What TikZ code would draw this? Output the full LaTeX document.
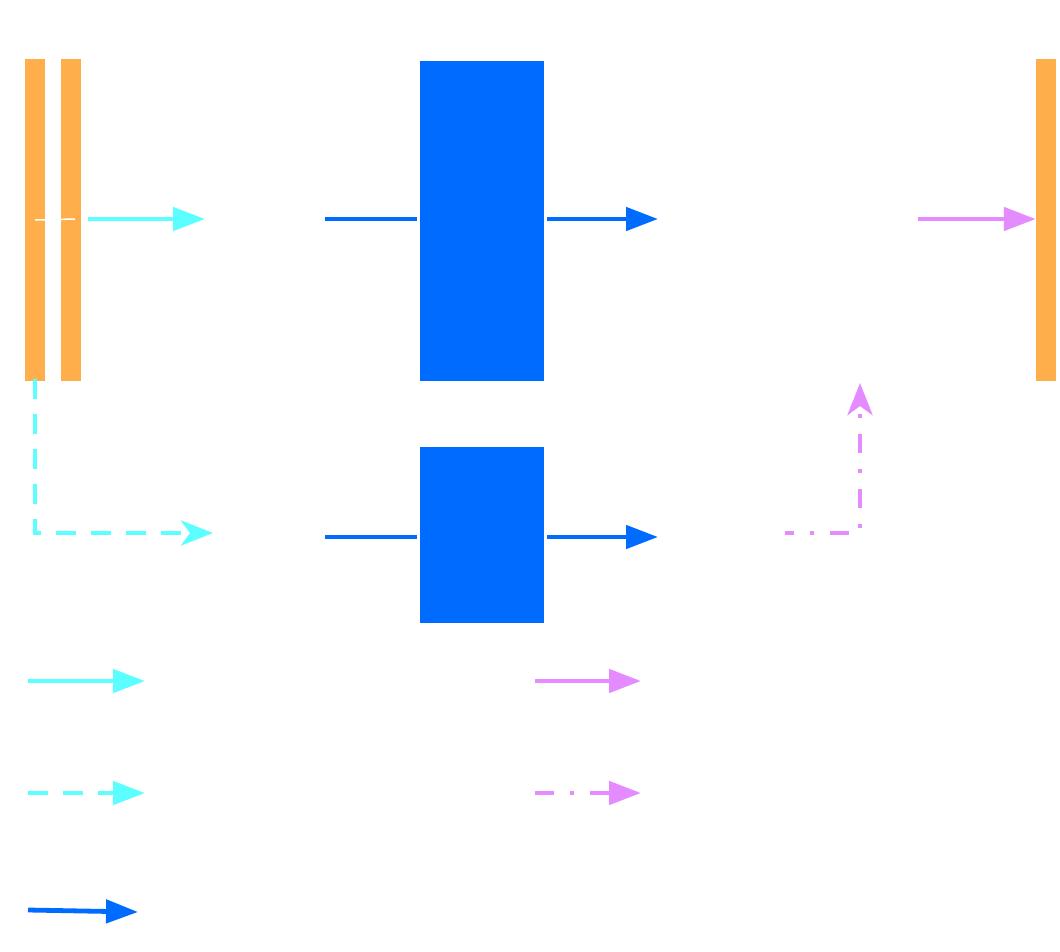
\documentclass[tikz,border=0pt]{standalone}
\usetikzlibrary{arrows.meta}
\definecolor{barorange}{HTML}{FFAE4C}
\definecolor{boxblue}{HTML}{006CFF}
\definecolor{lcyan}{HTML}{5CFFFF}
\definecolor{lmag}{HTML}{E38BFF}
\tikzset{
  bar/.style={rectangle, fill=barorange, draw=none, inner sep=0pt, minimum width=20pt, minimum height=322pt},
  bluebox/.style={rectangle, fill=boxblue, draw=none, inner sep=0pt, minimum width=124pt},
  conn/.style={line width=4.8pt},
  tri/.style={-{Triangle[length=32pt,width=23pt]}},
  stl/.style={-{Stealth[length=32pt,width=25pt,inset=9pt]}},
  cydash/.style={dash pattern=on 20pt off 15pt},
  mgdashdot/.style={dash pattern=on 19pt off 16pt on 4pt off 16pt},
}
\begin{document}
\begin{tikzpicture}[x=1pt,y=-1pt]
\useasboundingbox (0,0) rectangle (1060,951);
% bars and boxes
\node[bar] (b1) at (35,220) {};
\node[bar] (b2) at (71,220) {};
\node[bar] (b3) at (1046,220) {};
\node[bluebox, minimum height=320pt] (m1) at (482,221) {};
\node[bluebox, minimum height=176pt] (m2) at (482,535) {};
% coordinates
\coordinate (c1s) at (88,219);   \coordinate (c1e) at (205,219);
\coordinate (l1s) at (325,219);
\coordinate (o1e) at (658,219);
\coordinate (p1s) at (918,219);
\coordinate (l2s) at (325,537);
\coordinate (o2e) at (658,537);
\coordinate (dcorner) at (35,533); \coordinate (dend) at (213,533);
\coordinate (mstart) at (785,533); \coordinate (mcorner) at (860,533); \coordinate (mend) at (860,383);
% white tick across bars
\draw[white, line width=1.5pt] (b1.center) -- (75,219);
% row 1
\draw[conn, lcyan, tri] (c1s) -- (c1e);
\draw[conn, boxblue] (l1s) -- ([xshift=-3pt]m1.west |- l1s);
\draw[conn, boxblue, tri] ([xshift=3pt]m1.east |- o1e) -- (o1e);
\draw[conn, lmag, tri] (p1s) -- (b3.west |- p1s);
% row 2
\draw[conn, boxblue] (l2s) -- ([xshift=-3pt]m2.west |- l2s);
\draw[conn, boxblue, tri] ([xshift=3pt]m2.east |- o2e) -- (o2e);
% loops
\draw[conn, lcyan, cydash, stl] ([yshift=2pt]b1.south) -- (dcorner) -- (dend);
\draw[conn, lmag, mgdashdot, stl, dash phase=10pt] (mstart) -- (mcorner) -- (mend);
% legend
\coordinate (g1s) at (28,681); \coordinate (g1e) at (145,681);
\coordinate (g2s) at (28,793); \coordinate (g2e) at (145,793);
\coordinate (g3s) at (28,910); \coordinate (g3e) at (138,912);
\coordinate (g4s) at (535,681); \coordinate (g4e) at (641,681);
\coordinate (g5s) at (535,793); \coordinate (g5e) at (641,793);
\draw[conn, lcyan, tri] (g1s) -- (g1e);
\draw[conn, lcyan, cydash, tri] (g2s) -- (g2e);
\draw[conn, boxblue, tri] (g3s) -- (g3e);
\draw[conn, lmag, tri] (g4s) -- (g4e);
\draw[conn, lmag, mgdashdot, tri] (g5s) -- (g5e);
\end{tikzpicture}
\end{document}
